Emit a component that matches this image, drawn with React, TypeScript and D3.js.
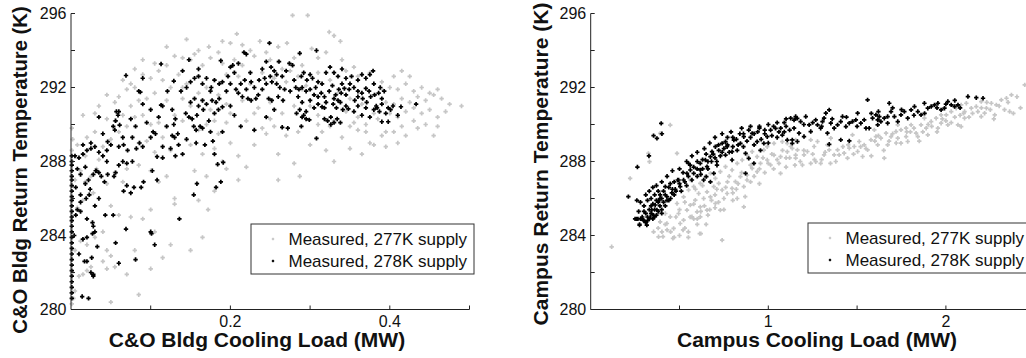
import React from 'react';
import * as d3 from 'd3';

type Pt = [number, number];

// ---------- Left panel: C&O Bldg ----------
const leftBlackColumnY: number[] = [288.3, 288.0, 287.8, 287.5, 287.2, 287.0, 286.7, 286.4, 286.1, 285.9, 285.6, 285.3, 285.0, 284.8, 284.5, 284.2, 283.9, 283.6, 283.3, 283.0, 282.7, 282.4, 282.1, 281.8, 281.5, 281.2, 280.9, 280.6];

const leftBlack: Pt[] = [
  [0.005,288.3],[0.01,288.2],[0.015,288.4],[0.02,288.6],[0.025,288.7],[0.03,288.8],[0.035,288.5],[0.04,288.3],[0.045,288.6],[0.05,288.9],
  [0.035,290.4],[0.057,290.7],[0.059,290.5],[0.069,292.65],[0.09,292.5],
  [0.008,287.6],[0.012,287.3],[0.018,287.7],[0.022,287.0],[0.028,287.3],[0.032,287.5],[0.038,287.2],[0.042,286.9],[0.046,287.3],[0.054,287.2],
  [0.006,286.6],[0.012,286.2],[0.018,286.8],[0.024,286.5],[0.03,285.6],[0.035,286.0],
  [0.006,285.1],[0.012,285.3],[0.02,284.9],[0.028,284.5],[0.03,284.2],[0.004,284.0],[0.015,283.8],
  [0.01,283.0],[0.02,282.6],[0.025,282.0],[0.028,281.9],[0.014,280.7],[0.022,280.6],[0.033,283.4],
  [0.031,287.5],[0.035,287.4],[0.056,287.4],[0.06,287.8],[0.065,288.0],[0.07,287.9],[0.077,288.0],
  [0.066,286.4],[0.07,286.7],[0.075,286.3],[0.079,286.6],[0.088,286.6],[0.091,286.9],
  [0.102,287.5],[0.108,287.0],[0.115,288.2],[0.131,288.3],[0.154,286.2],[0.158,286.8],[0.182,286.6],[0.188,286.9],[0.184,287.85],[0.191,287.95],
  [0.136,284.9],[0.1,284.2],[0.101,284.1],[0.105,283.5],[0.069,284.35],[0.056,283.6],[0.06,282.5],[0.043,285.1],[0.053,285.1],[0.027,284.7],[0.027,284.1],[0.02,283.9],[0.026,282.8],[0.017,282.6],[0.028,281.8],[0.081,282.7],
  [0.012,285.8],[0.008,285.4],[0.019,286.0],[0.023,286.2],
  [0.113,293.27],[0.085,291.8],[0.087,291.75],[0.129,292.35],[0.06,290.7],[0.056,290.2],[0.061,289.97],[0.053,289.9],[0.055,289.7],
  [0.046,289.07],[0.06,288.8],[0.066,288.9],[0.071,288.6],[0.082,288.7],[0.086,289.0],[0.09,288.8],[0.077,289.3],[0.081,289.9],[0.09,291.1],[0.1,290.8],[0.1,289.3],[0.103,289.6],[0.106,289.5],[0.11,290.4],[0.113,291.05],[0.115,291.0],[0.121,291.8],[0.127,290.8],[0.129,290.0],[0.131,290.3],[0.127,289.4],[0.13,289.3],[0.134,289.5],[0.115,288.8],[0.125,288.7],[0.135,288.9],[0.108,288.26],
  [0.138,291.8],[0.145,292.0],[0.15,292.3],[0.155,292.5],[0.16,292.6],[0.165,292.2],[0.148,293.5],[0.15,291.2],[0.155,291.4],[0.16,291.0],[0.165,291.3],[0.17,291.1],[0.144,290.6],[0.148,290.4],[0.152,290.3],[0.158,290.5],[0.166,290.8],[0.154,289.9],[0.157,289.7],[0.162,289.9],[0.165,289.8],[0.157,289.0],[0.168,288.9],[0.178,289.1],[0.18,288.4],
  [0.173,290.2],[0.18,290.6],[0.185,290.8],[0.19,290.95],[0.177,291.3],[0.182,291.2],[0.186,291.4],[0.176,292.0],[0.18,292.4],[0.186,292.2],[0.19,292.3],[0.197,292.6],[0.2,293.1],[0.188,293.45],[0.203,293.2],
  [0.207,291.9],[0.21,291.7],[0.215,291.5],[0.22,291.9],[0.222,291.4],[0.213,292.2],[0.218,292.4],[0.226,292.3],[0.217,293.9],[0.22,293.8],[0.226,291.3],[0.232,291.4],[0.23,289.7],[0.236,292.4],[0.24,293.0],[0.243,292.5],[0.213,289.9],
  [0.249,294.4],[0.287,293.85],[0.308,294.0],[0.251,293.1],[0.255,292.9],[0.258,292.7],[0.261,293.4],[0.274,293.3],[0.278,293.2],[0.245,292.2],[0.252,292.3],[0.258,292.2],[0.262,292.0],[0.268,291.9],[0.275,291.8],[0.282,292.0],
  [0.248,291.4],[0.252,291.3],[0.26,291.5],[0.266,291.3],[0.255,290.8],[0.245,290.4],
  [0.289,292.6],[0.292,292.8],[0.296,292.4],[0.3,292.7],[0.303,292.5],[0.286,291.9],[0.29,292.0],[0.295,291.8],[0.3,291.9],[0.307,292.0],
  [0.305,291.6],[0.31,291.5],[0.314,291.7],[0.318,291.5],[0.31,291.1],[0.315,290.95],[0.32,291.2],[0.318,290.9],
  [0.283,290.6],[0.287,290.8],[0.29,290.4],[0.292,290.5],[0.295,290.7],[0.295,290.3],[0.299,290.25],
  [0.324,291.8],[0.328,292.1],[0.332,291.6],[0.336,291.9],[0.339,291.7],[0.34,292.2],[0.343,291.95],
  [0.329,291.1],[0.333,290.9],[0.338,291.2],[0.341,290.8],[0.345,291.0],[0.348,290.85],
  [0.318,290.3],[0.322,290.2],[0.326,290.4],[0.33,290.1],[0.334,290.3],[0.338,290.1],[0.326,290.0],
  [0.308,289.25],[0.265,289.85],[0.272,289.8],[0.289,289.9],
  [0.33,292.8],[0.335,292.6],[0.34,293.0],[0.345,292.5],[0.352,292.6],[0.36,292.4],[0.365,292.7],[0.37,292.5],[0.375,292.7],[0.379,292.9],
  [0.349,291.9],[0.355,292.0],[0.36,291.8],[0.365,291.7],[0.37,291.95],[0.374,291.8],
  [0.356,291.3],[0.36,291.5],[0.366,291.4],[0.371,291.2],[0.376,291.5],[0.381,291.6],[0.386,291.7],[0.39,291.4],[0.393,291.8],[0.388,292.0],
  [0.38,290.8],[0.384,290.9],[0.387,290.7],[0.383,291.0],[0.398,290.9],[0.401,290.8],[0.404,291.0],[0.414,290.96],[0.39,290.15],[0.398,290.15],[0.41,290.5],[0.433,291.1],
  [0.14,292.9],[0.16,293.0],[0.17,292.5],[0.175,291.8],[0.195,291.8],[0.2,292.2],[0.205,292.8],[0.21,293.3],[0.225,292.8],[0.23,292.0],[0.235,291.6],[0.24,291.9],[0.245,293.4],[0.25,292.6],[0.265,292.6],[0.27,292.9],[0.28,292.4],[0.285,291.5],[0.29,291.2],[0.3,291.3],[0.305,290.9],[0.31,292.3],[0.315,292.2],[0.32,292.8],[0.325,293.1],[0.33,291.4],[0.335,291.3],[0.345,291.6],[0.35,292.2],[0.355,290.7],[0.36,291.0],[0.365,290.5],[0.37,290.9],[0.375,290.4],[0.38,292.2],[0.39,291.1],[0.395,290.6],[0.2,291.0],[0.205,290.5],[0.19,289.6],[0.175,289.6],[0.145,289.2],[0.14,288.4],[0.12,289.9],[0.095,290.1],[0.075,290.3],[0.065,289.3],[0.045,288.0],[0.04,289.5],[0.025,289.0],[0.015,288.9]
];

const leftGray: Pt[] = [
  [0.001,280.3],[0.003,280.6],[0.005,281.0],[0.002,282.0],[0.01,281.8],[0.015,281.9],[0.02,282.1],[0.025,282.3],[0.005,283.2],[0.012,283.7],[0.02,283.5],[0.03,283.9],[0.008,285.5],[0.015,285.9],[0.022,286.2],[0.028,286.3],[0.005,287.0],[0.018,286.9],[0.025,287.2],[0.001,288.6],[0.002,289.2],[0.001,289.8],[0.008,288.9],[0.02,289.3],[0.03,289.6],[0.035,288.1],[0.032,287.6],
  [0.04,282.6],[0.045,282.2],[0.05,282.9],[0.055,282.3],[0.05,280.4],[0.04,284.2],[0.05,285.6],[0.06,285.1],[0.045,286.8],[0.055,287.4],[0.065,286.9],[0.07,287.6],[0.04,288.8],[0.05,289.2],[0.06,289.6],[0.07,289.9],[0.045,290.3],[0.055,290.2],[0.065,290.5],[0.075,291.0],[0.06,291.5],[0.07,291.9],[0.075,292.2],[0.065,292.4],[0.08,292.0],[0.08,290.4],[0.085,291.3],[0.085,289.0],[0.085,287.8],[0.075,285.0],[0.08,283.2],[0.085,280.8],[0.07,281.9],
  [0.09,292.7],[0.1,292.5],[0.11,292.9],[0.115,292.4],[0.12,293.2],[0.095,291.4],[0.105,291.7],[0.12,291.3],[0.09,290.5],[0.1,290.0],[0.11,290.1],[0.12,289.9],[0.13,290.5],[0.095,289.1],[0.105,288.5],[0.115,289.3],[0.125,288.6],[0.1,287.5],[0.11,286.9],[0.12,287.2],[0.13,286.0],[0.1,285.4],[0.105,284.2],[0.115,282.8],[0.1,282.2],[0.13,285.7],[0.125,283.5],
  [0.14,293.6],[0.15,293.5],[0.155,293.8],[0.165,293.2],[0.175,293.6],[0.185,293.9],[0.19,293.3],[0.135,292.7],[0.145,292.2],[0.16,292.6],[0.17,292.0],[0.18,292.4],[0.195,292.7],[0.14,291.4],[0.15,291.0],[0.165,291.3],[0.175,290.8],[0.185,291.6],[0.195,291.1],[0.14,290.2],[0.16,289.7],[0.17,290.0],[0.185,289.5],[0.195,290.1],[0.15,288.9],[0.165,288.4],[0.18,288.7],[0.19,288.0],[0.155,287.5],[0.17,287.2],[0.18,286.4],[0.16,285.9],[0.172,285.4],[0.165,283.9],[0.15,283.2],[0.2,289.0],[0.195,287.6],[0.173,294.2],
  [0.2,294.4],[0.208,294.9],[0.225,294.0],[0.237,294.5],[0.26,294.2],[0.271,294.4],[0.278,295.9],[0.205,293.5],[0.215,293.2],[0.23,293.7],[0.25,293.5],[0.265,293.0],[0.28,293.6],[0.29,293.2],[0.21,292.6],[0.225,292.2],[0.24,292.8],[0.255,292.5],[0.27,292.3],[0.285,292.6],[0.295,292.1],[0.215,291.3],[0.235,290.9],[0.25,291.2],[0.265,290.6],[0.28,291.0],[0.29,290.4],[0.22,290.2],[0.24,289.8],[0.255,289.9],[0.27,289.4],[0.285,289.6],[0.23,288.9],[0.26,288.4],[0.28,287.9],[0.21,288.3],[0.22,287.7],[0.26,287.0],[0.287,287.2],[0.245,289.5],[0.3,288.9],
  [0.297,295.9],[0.302,294.1],[0.324,295.0],[0.33,294.8],[0.338,294.5],[0.31,293.6],[0.32,293.9],[0.34,293.5],[0.355,293.1],[0.31,292.8],[0.325,292.4],[0.345,292.9],[0.36,292.6],[0.375,292.8],[0.39,292.3],[0.305,291.6],[0.32,291.2],[0.335,291.7],[0.35,291.4],[0.365,291.1],[0.38,291.6],[0.395,291.2],[0.31,290.5],[0.33,290.2],[0.345,290.7],[0.36,290.4],[0.37,290.0],[0.385,290.3],[0.4,290.6],[0.315,289.6],[0.34,289.3],[0.36,289.7],[0.375,289.0],[0.39,289.4],[0.35,288.7],[0.365,288.4],[0.32,288.6],[0.38,288.9],
  [0.405,292.6],[0.415,292.9],[0.425,292.6],[0.41,291.9],[0.42,292.2],[0.43,291.8],[0.44,292.0],[0.45,291.7],[0.46,291.9],[0.405,291.1],[0.415,291.4],[0.425,291.2],[0.435,291.5],[0.445,291.3],[0.455,291.6],[0.465,291.4],[0.475,291.1],[0.49,291.0],[0.41,290.4],[0.42,290.7],[0.43,290.9],[0.44,290.6],[0.45,290.8],[0.46,290.4],[0.47,290.7],[0.43,290.2],[0.445,290.0],[0.46,289.9],[0.405,289.6],[0.415,289.9],[0.42,289.4],[0.41,289.0],[0.435,289.8],[0.455,289.4],[0.395,288.8],[0.395,289.6],
  [0.09,293.5],[0.12,294.2],[0.13,293.7],[0.145,294.6],[0.16,294.0],[0.19,294.5],[0.215,294.3],[0.245,293.9],[0.26,293.4],[0.275,292.9],[0.29,291.9],[0.3,291.0],[0.31,290.0],[0.325,289.9],[0.33,288.0],[0.35,289.9],[0.355,290.1],[0.37,289.6],[0.38,290.6],[0.39,291.9],[0.4,292.0],[0.25,290.3],[0.23,290.6],[0.2,290.6],[0.18,290.2],[0.16,291.7],[0.14,292.0],[0.125,292.0],[0.105,293.3],[0.08,293.0],[0.045,291.6],[0.055,291.2],[0.035,291.0],[0.03,290.6],[0.015,290.5],[0.018,288.3],[0.012,287.5],[0.045,283.2],[0.09,284.9],[0.21,287.0]
];

// ---------- Right panel: Campus ----------
const rightBlack: Pt[] = [
  [0.397,290.06],[0.354,289.4],[0.401,289.5],[0.373,289.25],[0.328,288.3],[0.263,287.7],[0.212,286.1],[0.26,285.9],[0.266,284.9],[0.275,284.6],
  [0.25,284.9],[0.275,284.56],[0.297,284.83],[0.316,284.56],[0.335,285.0],[0.344,285.38],[0.363,285.65],[0.382,285.9],[0.373,285.38],[0.354,285.1],[0.391,286.2],[0.41,286.4],[0.42,286.64],[0.448,286.8],[0.429,286.1],[0.457,286.3],[0.476,286.5],[0.504,286.64],[0.523,287.0],[0.495,287.0],[0.542,287.36],[0.561,287.54],[0.58,287.36],[0.551,287.9],[0.599,287.6],[0.617,287.54],[0.617,287.9],[0.646,288.08],[0.655,287.72],[0.674,288.26],[0.683,288.53],[0.702,288.8],[0.721,288.6],[0.74,288.98],[0.759,289.07],[0.768,288.8],[0.806,289.16],[0.796,288.53],[0.825,288.6],[0.843,288.98],[0.872,288.44],[0.89,288.17],[0.862,289.34],[0.909,289.52],[0.937,289.07],[0.956,288.6],[0.975,288.98],[0.994,289.34],[1.013,289.7],[1.041,289.79],[1.079,289.43],[1.107,289.16],[1.135,288.98],[1.145,290.24],[1.163,290.33],[0.651,287.18],[0.674,286.9],[0.872,287.36],[0.919,287.9],[0.796,288.08],[0.759,288.35],[0.711,287.8],[0.693,287.36],[0.636,287.0],
  [1.126,290.34],[1.154,290.43],[1.182,290.16],[1.211,290.43],[1.145,289.8],[1.173,289.53],[1.201,289.35],[1.135,289.17],[1.164,289.08],[1.239,289.62],[1.23,289.98],[1.267,290.25],[1.277,289.98],[1.295,289.8],[1.305,290.16],[1.324,290.61],[1.314,290.34],[1.343,290.79],[1.352,290.07],[1.333,289.53],[1.371,289.8],[1.39,289.98],[1.408,290.16],[1.418,290.43],[1.437,289.89],[1.456,290.07],[1.474,290.16],[1.493,290.25],[1.503,290.61],[1.521,290.07],[1.54,290.25],[1.55,289.8],[1.568,289.8],[1.587,290.34],[1.606,290.52],[1.625,290.43],[1.634,290.16],[1.616,289.98],[1.653,290.34],[1.672,290.43],[1.681,291.15],[1.691,290.7],[1.71,290.43],[1.729,290.16],[1.747,290.52],[1.766,290.7],[1.785,290.34],[1.804,290.79],[1.823,290.97],[1.842,290.7],[1.86,290.52],[1.879,291.15],[1.898,290.88],[1.917,290.97],[1.936,291.06],[1.955,291.15],[1.973,290.79],[1.992,290.88],[2.011,291.24],[2.03,291.06],[2.049,290.97],[2.068,291.06],[2.124,291.51],[2.171,291.45],[2.209,291.42],[1.559,291.33],[1.408,289.17],[1.456,289.11],[1.343,288.93],[1.672,290.07],[1.616,290.25],
  [0.3,285.6],[0.31,285.2],[0.32,285.9],[0.33,285.4],[0.34,286.0],[0.35,285.7],[0.36,286.2],[0.37,285.9],[0.38,286.4],[0.39,285.6],[0.4,286.0],[0.41,285.8],[0.42,286.2],[0.43,285.9],[0.44,286.6],[0.45,286.0],[0.29,285.0],[0.3,284.8],[0.31,284.7],[0.32,285.0],[0.33,284.9],[0.34,285.2],[0.35,284.9],[0.36,285.4],[0.37,285.1],[0.38,285.3],[0.39,286.0],[0.4,285.4],[0.42,285.6],[0.46,286.5],[0.47,286.9],[0.48,286.4],[0.49,287.0],[0.5,286.8],[0.52,287.4],[0.53,286.9],[0.55,287.2],[0.56,287.8],[0.58,287.7],[0.6,288.0],[0.62,287.3],[0.63,288.1],[0.65,288.4],[0.66,287.6],[0.68,288.0],[0.7,288.2],[0.72,288.9],[0.73,288.3],[0.75,288.7],[0.77,289.3],[0.78,288.5],[0.8,288.8],[0.82,289.2],[0.84,289.5],[0.86,288.8],[0.88,289.1],[0.9,289.3],[0.92,288.9],[0.94,289.6],[0.96,289.2],[0.98,289.5],[1.0,289.0],[1.02,289.4],[1.05,289.3],[1.07,289.8],[1.09,289.6],[1.1,289.9],[1.12,289.7],[0.28,285.8],[0.27,285.3],[0.26,284.9],
  [0.31,286.2],[0.33,286.4],[0.35,286.6],[0.37,286.7],[0.4,286.9],[0.43,287.2],[0.46,287.5],[0.5,287.6],[0.54,288.0],[0.57,288.3],[0.6,288.5],[0.64,288.7],[0.67,289.0],[0.7,289.3],[0.74,289.5],[0.79,289.6],[0.85,289.8],[0.9,289.9],[0.95,289.8],[1.0,290.0],[1.05,290.1],[1.1,290.3],[0.28,284.9],[0.3,285.3],[0.32,284.8],[0.34,285.6],[0.36,285.0],[0.38,285.8],[0.4,285.2],[0.44,285.9],[0.47,286.2],[0.51,286.4],[0.54,286.7],[0.57,287.0],[0.6,287.2],[0.63,287.6],[0.66,288.0],[0.69,288.4],[0.71,288.0],[0.74,288.5],[0.77,288.9],[0.8,289.3],[0.83,288.9],[0.86,289.5],[0.89,289.7],[0.92,289.5],[0.95,289.9],[0.98,289.7],[1.03,289.9],[1.06,289.6],[1.09,290.1],[1.2,290.0],[1.25,290.1],[1.3,289.9],[1.36,290.3],[1.44,290.4],[1.5,289.9],[1.58,290.6],[1.62,290.7],[1.7,290.9],[1.75,290.8],[1.82,290.5],[1.88,290.6],[1.95,290.9],[2.0,291.1],[2.05,291.3],[2.08,290.9]
];

const rightGray: Pt[] = [
  [0.448,289.97],[0.391,289.52],[0.325,288.44],[0.331,287.99],[0.486,288.44],[0.222,287.09],[0.118,283.39],
  [0.429,284.65],[0.467,284.38],[0.504,284.65],[0.448,285.01],[0.495,285.19],[0.542,285.37],[0.523,284.83],[0.57,285.01],[0.599,285.28],[0.617,285.55],[0.589,285.91],[0.561,285.64],[0.608,286.27],[0.636,286.0],[0.655,286.36],[0.674,286.09],[0.693,286.64],[0.721,286.82],[0.74,286.46],[0.702,285.73],[0.655,285.37],[0.617,285.01],[0.73,285.37],[0.768,286.27],[0.796,286.55],[0.815,286.91],[0.843,287.18],[0.862,286.64],[0.825,286.0],[0.881,287.27],[0.909,287.63],[0.937,287.45],[0.956,287.9],[0.994,288.08],[1.013,287.81],[1.032,288.35],[1.069,288.26],[1.107,288.53],[1.135,288.71],[1.154,288.35],[1.069,287.36],[0.862,285.55],[0.74,283.75],[0.391,284.74],[0.42,285.19],[0.486,285.73],[0.523,286.09],[0.551,286.46],[0.58,286.64],[0.561,287.0],[0.617,286.82],[0.646,287.18],[0.674,287.36],[0.702,287.09],[0.73,287.45],[0.759,287.72],[0.796,287.54],[0.825,287.9],[0.853,288.08],[0.881,288.35],[0.909,288.53],[0.937,288.26],[0.975,288.62],[0.994,288.8],[1.032,288.98],[1.079,289.07],[1.107,288.98],[1.154,289.16],[0.354,284.2],[0.382,283.93],[0.401,284.2],
  [0.463,283.85],[0.614,284.1],[0.407,283.94],
  [1.126,288.81],[1.164,288.63],[1.201,288.36],[1.154,288.18],[1.192,287.81],[1.239,287.9],[1.267,287.99],[1.295,287.9],[1.22,288.54],[1.258,288.81],[1.314,288.36],[1.343,288.63],[1.371,288.36],[1.399,288.36],[1.427,288.45],[1.456,288.72],[1.484,288.81],[1.512,289.08],[1.54,288.9],[1.578,289.17],[1.606,289.35],[1.634,289.26],[1.663,289.53],[1.691,289.35],[1.719,289.62],[1.747,289.71],[1.776,289.8],[1.804,289.98],[1.832,289.53],[1.86,289.98],[1.889,289.8],[1.917,290.16],[1.945,290.34],[1.973,290.07],[2.002,290.52],[2.03,290.7],[2.058,290.88],[2.086,291.06],[2.115,291.15],[2.143,290.88],[2.171,290.97],[2.199,291.24],[2.228,290.88],[2.256,291.15],[2.284,291.06],[2.312,291.33],[2.341,291.42],[2.369,291.6],[2.444,292.14],[2.359,290.7],[2.275,290.52],[2.199,290.43],[2.105,290.34],[2.068,289.98],[2.011,289.98],[1.955,289.8],[1.898,289.44],[1.842,289.35],[1.785,289.08],[1.729,289.26],[1.672,288.9],[1.616,288.9],[1.559,288.63],[1.503,288.54],[1.446,288.18],[1.39,288.63],[1.333,288.9],[1.277,289.08],[1.239,289.17],[1.352,289.26],[1.474,289.44],[1.597,289.71],[1.729,289.98],[1.879,290.34],[1.973,290.52],[2.105,290.7],[2.218,290.61],[2.086,289.89],[1.776,289.35],[1.531,288.27],[1.653,288.18],[1.747,288.99],
  [0.45,284.2],[0.47,283.9],[0.5,284.0],[0.53,284.4],[0.55,284.2],[0.58,284.9],[0.6,284.6],[0.62,284.1],[0.64,285.6],[0.66,285.1],[0.68,285.9],[0.7,286.2],[0.72,285.8],[0.75,286.0],[0.77,286.9],[0.78,287.2],[0.8,286.3],[0.83,286.8],[0.85,287.4],[0.88,287.0],[0.9,287.8],[0.92,287.2],[0.95,287.6],[0.97,288.2],[1.0,287.9],[1.02,288.4],[1.05,288.1],[1.08,288.6],[1.1,287.7],[1.12,288.2],[1.18,288.0],[1.25,288.4],[1.3,288.1],[1.35,287.9],[1.42,288.8],[1.48,288.4],[1.55,288.7],[1.6,289.1],[1.65,288.6],[1.7,289.5],[1.8,289.6],[1.85,289.1],[1.9,290.0],[1.95,289.6],[2.0,290.2],[2.05,290.4],[2.1,290.6],[2.15,290.6],[2.2,290.9],[2.25,290.8],[2.3,291.0],[2.35,291.2],[2.38,290.6],[2.4,291.5],[0.5,285.4],[0.53,285.8],[0.56,285.0],[0.59,286.5],[0.63,286.7],[0.38,284.4],[0.42,284.6],
  [0.55,283.9],[0.6,284.9],[0.65,284.6],[0.7,285.5],[0.75,285.4],[0.8,285.9],[0.82,286.5],[0.87,286.1],[0.9,286.9],[0.95,286.8],[0.98,287.4],[1.03,287.6],[1.06,287.9],[1.1,288.2],[1.15,287.8],[1.2,288.6],[1.26,288.1],[1.32,288.5],[1.38,288.0],[1.45,288.9],[1.52,288.8],[1.58,288.3],[1.62,289.4],[1.68,289.1],[1.72,289.0],[1.78,289.6],[1.82,289.8],[1.87,289.6],[1.92,289.9],[1.98,290.3],[2.03,290.1],[2.08,290.5],[2.13,290.4],[2.18,290.7],[2.23,291.2],[2.27,290.3],[2.33,290.8],[2.42,290.9],[0.48,285.0],[0.52,284.3],[0.43,284.3],[0.58,285.7],[0.62,285.3],[0.67,285.4],[0.71,286.5],[0.76,286.6]
];

const yTickValues: number[] = [280, 282, 284, 286, 288, 290, 292, 294, 296];
const yTickLabels: number[] = [280, 284, 288, 292, 296];
const leftXTickValues: number[] = [0.1, 0.2, 0.3, 0.4, 0.5];
const leftXTickLabels: number[] = [0.2, 0.4];
const rightXTickValues: number[] = [0.5, 1, 1.5, 2, 2.5];
const rightXTickLabels: number[] = [1, 2];
const legendLabels: string[] = ['Measured, 277K supply', 'Measured, 278K supply'];

const GRAY = '#c6c6c6';
const BLACK = '#000000';
const FONT = '"Liberation Sans", Arial, Helvetica, sans-serif';

function plusPath(x: number, y: number, a: number) {
  return `M${x - a},${y}h${2 * a}M${x},${y - a}v${2 * a}`;
}

type PanelProps = {
  xDomain: [number, number];
  xRange: [number, number];
  gray: Pt[];
  black: Pt[];
  xTicks: number[];
  xLabels: number[];
  xFmt: (v: number) => string;
  xTitle: string;
  xTitleX: number;
  yTitle: string;
  yTitleX: number;
  yTitleY: number;
  yTitleSize: number;
  legendX: number;
  legendY: number;
};

function Panel(p: PanelProps) {
  const x = d3.scaleLinear().domain(p.xDomain).range(p.xRange);
  const y = d3.scaleLinear().domain([280, 296]).range([309.5, 13.5]);
  const x0 = p.xRange[0];
  const xEnd = p.xRange[1];
  const yBottom = y(280);
  const grayPath = p.gray.map(d => plusPath(x(d[0]), y(d[1]), 2.2)).join('');
  const blackPath = p.black.map(d => plusPath(x(d[0]), y(d[1]), 2.2)).join('');
  const tickLen = 4;
  const legW = 223;
  const legH = 50;
  return (
    <g>
      <path d={grayPath} stroke={GRAY} strokeWidth={1.7} fill="none" />
      <path d={blackPath} stroke={BLACK} strokeWidth={1.7} fill="none" />
      <line x1={x0} x2={x0} y1={y(296)} y2={yBottom} stroke="#222" strokeWidth={1} />
      <line x1={x0} x2={xEnd} y1={yBottom} y2={yBottom} stroke="#222" strokeWidth={1} />
      {yTickValues.map(v => (
        <line key={'yt' + v} x1={x0} x2={x0 + tickLen} y1={y(v)} y2={y(v)} stroke="#222" strokeWidth={1} />
      ))}
      {yTickLabels.map(v => (
        <text key={'yl' + v} x={x0 - 4.5} y={y(v)} dy="0.36em" textAnchor="end" fontSize={16} fontFamily={FONT} fill="#111">{v}</text>
      ))}
      {p.xTicks.map(v => (
        <line key={'xt' + v} x1={x(v)} x2={x(v)} y1={yBottom} y2={yBottom - tickLen} stroke="#222" strokeWidth={1} />
      ))}
      {p.xLabels.map(v => (
        <text key={'xl' + v} x={x(v)} y={327} textAnchor="middle" fontSize={16} fontFamily={FONT} fill="#111">{p.xFmt(v)}</text>
      ))}
      <text x={p.xTitleX} y={347} textAnchor="middle" fontSize={21} fontWeight="bold" fontFamily={FONT} fill="#111">{p.xTitle}</text>
      <text transform={`translate(${p.yTitleX},${p.yTitleY}) rotate(-90)`} textAnchor="middle" fontSize={p.yTitleSize} fontWeight="bold" fontFamily={FONT} fill="#111">{p.yTitle}</text>
      <rect x={p.legendX} y={p.legendY} width={legW} height={legH} fill="#fff" stroke="#333" strokeWidth={1} />
      <path d={plusPath(p.legendX + 22, p.legendY + 15, 1.2)} stroke={GRAY} strokeWidth={1.4} />
      <path d={plusPath(p.legendX + 22, p.legendY + 37, 1.2)} stroke={BLACK} strokeWidth={1.4} />
      {legendLabels.map((t, i) => (
        <text key={t} x={p.legendX + 37.5} y={p.legendY + 15 + i * 22} dy="0.36em" fontSize={17} fontFamily={FONT} fill="#111">{t}</text>
      ))}
    </g>
  );
}

export default function App() {
  const leftCol: Pt[] = leftBlackColumnY.map(v => [0.001, v] as Pt);
  return (
    <svg width={1026} height={358} style={{ position: 'absolute', left: 0, top: 0, background: '#fff' }}>
      <rect x={0} y={0} width={1026} height={358} fill="#fff" />
      <Panel
        xDomain={[0, 0.5]}
        xRange={[71, 469.5]}
        gray={leftGray}
        black={[...leftCol, ...leftBlack]}
        xTicks={leftXTickValues}
        xLabels={leftXTickLabels}
        xFmt={v => d3.format('.1f')(v)}
        xTitle="C&O Bldg Cooling Load (MW)"
        xTitleX={257}
        yTitle="C&O Bldg Return Temperature (K)"
        yTitleX={27}
        yTitleY={170}
        yTitleSize={20.3}
        legendX={251}
        legendY={224}
      />
      <Panel
        xDomain={[0, 2.5]}
        xRange={[590.7, 1034.7]}
        gray={rightGray}
        black={rightBlack}
        xTicks={rightXTickValues}
        xLabels={rightXTickLabels}
        xFmt={v => d3.format('d')(v)}
        xTitle="Campus Cooling Load (MW)"
        xTitleX={817}
        yTitle="Campus Return Temperature (K)"
        yTitleX={548}
        yTitleY={164}
        yTitleSize={21}
        legendX={808}
        legendY={223}
      />
    </svg>
  );
}
